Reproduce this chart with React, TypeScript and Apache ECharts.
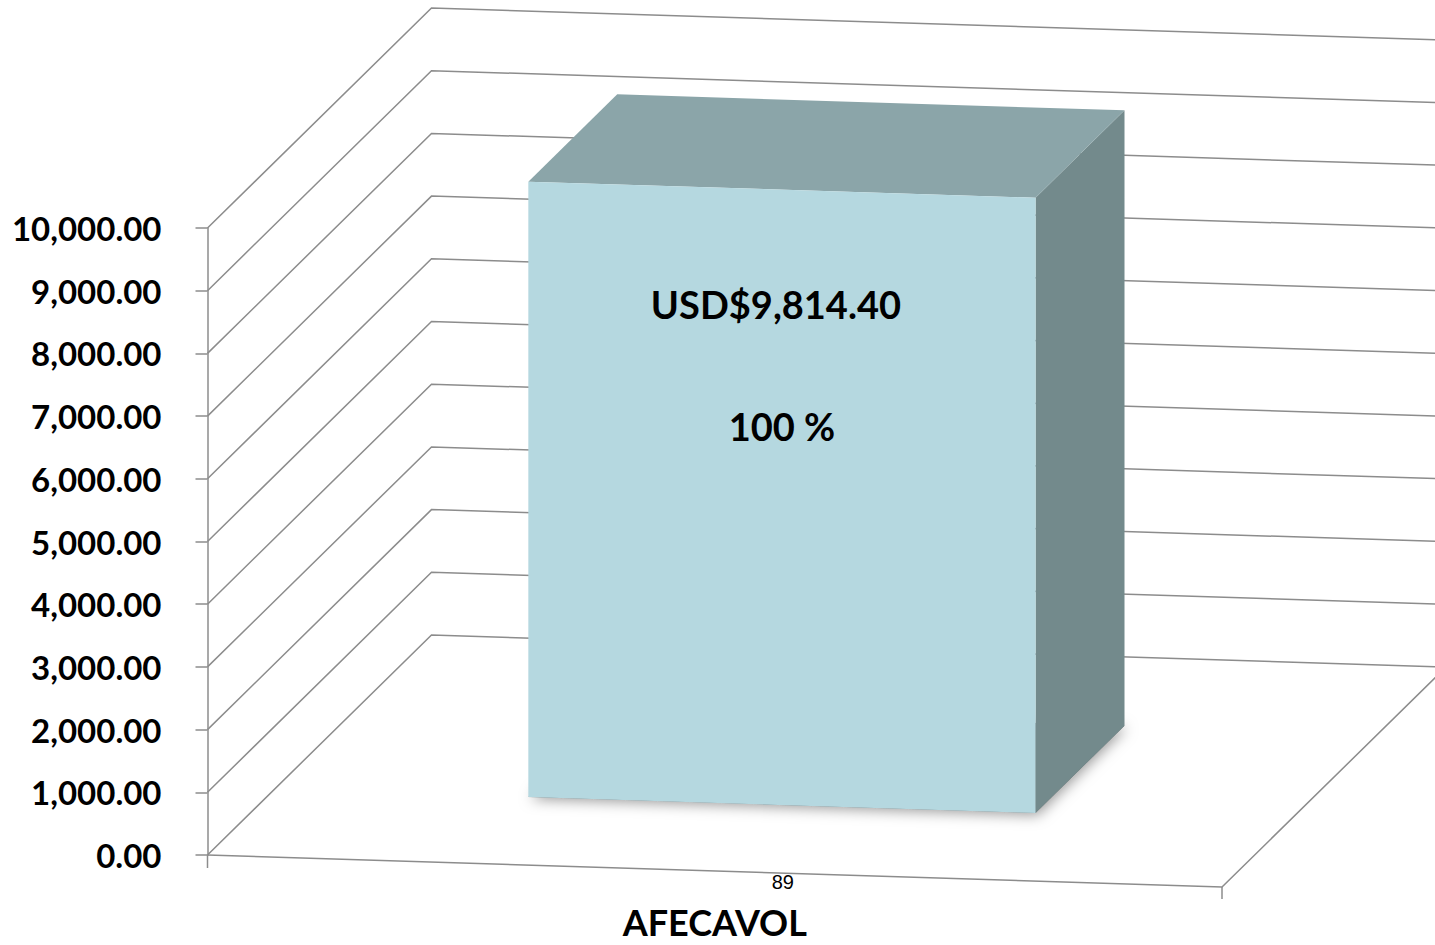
import React, { useEffect, useRef } from 'react';
import * as echarts from 'echarts';

// ---- data ----
const CATEGORIES = ['89'];
const VALUES = [9814.4];
const PERCENTS = [100];
const Y_TICKS = [0, 1000, 2000, 3000, 4000, 5000, 6000, 7000, 8000, 9000, 10000];
const AXIS_NAME = 'AFECAVOL';
const CURRENCY = 'USD$';

// ---- oblique 3D look (layout/style constants) ----
const DEPTH_X = 224;
const DEPTH_Y = -220;
const FLOOR_SLOPE = 0.0316;
const BAR_U = [0.25, 0.75];
const BAR_D = [0.3, 0.697];
const GRID_COLOR = '#8c8c8c';
const FRONT = '#B5D8E0';
const TOP = '#8BA5A9';
const SIDE = '#738A8C';

const fmt = (n: number) =>
  n.toLocaleString('en-US', { minimumFractionDigits: 2, maximumFractionDigits: 2 });

function projector(api: any) {
  const band = api.size([1, 0])[0];
  const cx = api.coord([0, 0])[0];
  const left = cx - band / 2;
  return (u: number, v: number, d: number) => {
    const y = api.coord([0, v])[1];
    return [left + u * band + d * DEPTH_X, y + u * band * FLOOR_SLOPE + d * DEPTH_Y];
  };
}

const lineStyle = { stroke: GRID_COLOR, lineWidth: 1.5, fill: 'none' };

export default function App() {
  const ref = useRef<HTMLDivElement>(null);
  useEffect(() => {
    if (!ref.current) return;
    const chart = echarts.init(ref.current, undefined, { renderer: 'svg' });
    const option: any = {
      animation: false,
      backgroundColor: '#ffffff',
      grid: {
        left: 207.5,
        right: 213,
        top: 228,
        bottom: 90,
        containLabel: false,
        outerBoundsMode: 'none',
      },
      xAxis: {
        type: 'category',
        data: CATEGORIES,
        axisLine: { show: false },
        axisTick: { show: false },
        splitLine: { show: false },
        axisLabel: {
          show: true,
          margin: 17,
          padding: [0, 0, 0, 136],
          fontFamily: 'Liberation Sans',
          fontSize: 20,
          color: '#000',
        },
        name: AXIS_NAME,
        nameLocation: 'middle',
        nameGap: 47,
        nameTextStyle: {
          fontFamily: 'Lato',
          fontWeight: 'bold',
          fontSize: 36,
          lineHeight: 40,
          color: '#000',
        },
      },
      yAxis: {
        type: 'value',
        min: 0,
        max: 10000,
        interval: 1000,
        axisLine: { show: true, lineStyle: { color: GRID_COLOR, width: 1.5 } },
        axisTick: { show: true, length: 12, lineStyle: { color: GRID_COLOR, width: 1.5 } },
        splitLine: { show: false },
        axisLabel: {
          margin: 46,
          formatter: (v: number) => fmt(v),
          fontFamily: 'Lato',
          fontWeight: 'bold',
          fontSize: 33,
          color: '#000',
        },
      },
      series: [
        {
          type: 'custom',
          name: 'walls',
          z: 1,
          silent: true,
          data: Y_TICKS.map((t) => [0, t]),
          encode: { x: 0, y: 1 },
          renderItem: (params: any, api: any) => {
            const P = projector(api);
            const v = api.value(1);
            const children: any[] = [
              {
                type: 'polyline',
                shape: { points: [P(0, v, 0), P(0, v, 1), P(1, v, 1)] },
                style: lineStyle,
              },
            ];
            if (params.dataIndex === 0) {
              const a = P(0, v, 0);
              const b = P(1, v, 0);
              const c = P(1, v, 1);
              children.push({ type: 'polyline', shape: { points: [a, b, c] }, style: lineStyle });
              children.push({ type: 'line', shape: { x1: a[0], y1: a[1], x2: a[0], y2: a[1] + 13 }, style: lineStyle });
              children.push({ type: 'line', shape: { x1: b[0], y1: b[1], x2: b[0], y2: b[1] + 12 }, style: lineStyle });
            }
            return { type: 'group', children };
          },
        },
        {
          type: 'custom',
          name: 'bar',
          z: 3,
          data: VALUES.map((v, i) => [i, v, PERCENTS[i]]),
          encode: { x: 0, y: 1 },
          renderItem: (params: any, api: any) => {
            const P = projector(api);
            const v = api.value(1);
            const pct = api.value(2);
            const [u0, u1] = BAR_U;
            const [d0, d1] = BAR_D;
            const fTL = P(u0, v, d0), fTR = P(u1, v, d0), fBR = P(u1, 0, d0), fBL = P(u0, 0, d0);
            const bTL = P(u0, v, d1), bTR = P(u1, v, d1), bBR = P(u1, 0, d1), bBL = P(u0, 0, d1);
            const cx = (fTL[0] + fTR[0]) / 2;
            const topY = (fTL[1] + fTR[1]) / 2;
            const textStyle = {
              fill: '#000',
              fontFamily: 'Lato',
              fontWeight: 'bold',
              fontSize: 38,
              align: 'center',
              verticalAlign: 'middle',
            };
            return {
              type: 'group',
              children: [
                {
                  type: 'polygon',
                  shape: { points: [fBL, fBR, bBR, bBL] },
                  style: {
                    fill: 'rgba(90,90,90,0.8)',
                    shadowBlur: 14,
                    shadowColor: 'rgba(0,0,0,0.5)',
                    shadowOffsetX: 2,
                    shadowOffsetY: 2,
                  },
                },
                { type: 'polygon', shape: { points: [fTR, bTR, bBR, fBR] }, style: { fill: SIDE } },
                { type: 'polygon', shape: { points: [fTL, bTL, bTR, fTR] }, style: { fill: TOP } },
                { type: 'polygon', shape: { points: [fTL, fTR, fBR, fBL] }, style: { fill: FRONT } },
                {
                  type: 'text',
                  style: { ...textStyle, text: CURRENCY + fmt(v), x: cx - 6, y: topY + 114 },
                },
                {
                  type: 'text',
                  style: { ...textStyle, text: `${pct} %`, x: cx, y: topY + 236 },
                },
              ],
            };
          },
        },
      ],
    };
    chart.setOption(option);
    return () => chart.dispose();
  }, []);
  return (
    <div
      ref={ref}
      style={{ position: 'fixed', left: 0, top: 0, width: 1435, height: 945, background: '#fff' }}
    />
  );
}
